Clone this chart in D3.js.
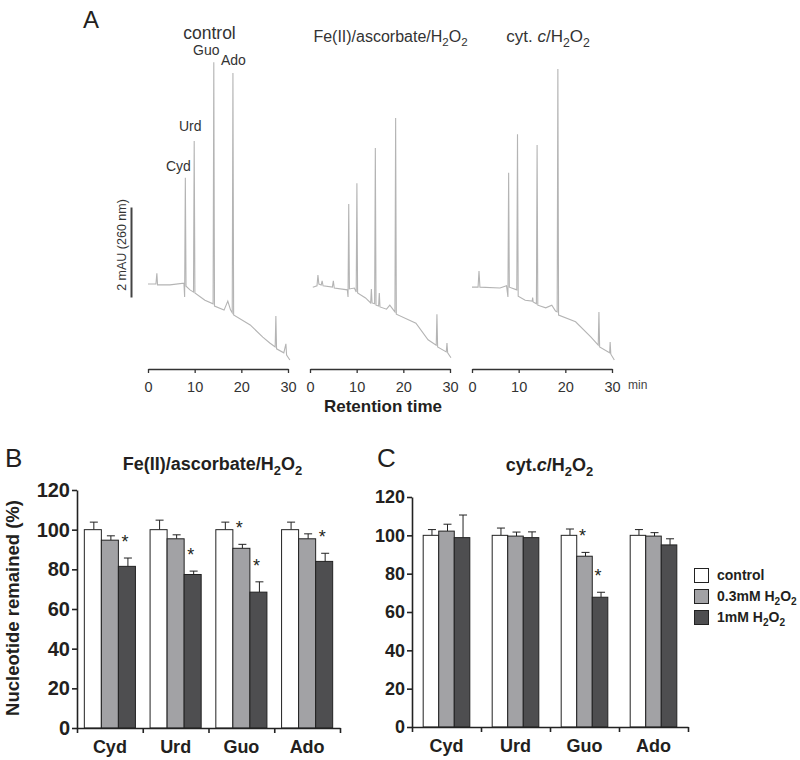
<!DOCTYPE html>
<html><head><meta charset="utf-8">
<script src="https://cdn.jsdelivr.net/npm/d3@7"></script>
<style>
body{margin:0;background:#fff}
svg{display:block;font-family:"Liberation Sans",Arial,Helvetica,sans-serif}
</style>
</head><body>
<svg id="chart" width="800" height="760"></svg>
<script>
// ---------------- DATA ----------------
// Panel A: chromatograms, [retention time (min), absorbance (mAU, relative)]
const traceTitles = ["control", "Fe(II)/ascorbate/H_2O_2", "cyt. {c}/H_2O_2"];
const timeTicks = [0, 10, 20, 30];
const traceControl = [[0,0],[1.7,0],[1.9,0.24],[2.05,-0.02],[4.7,-0.02],[7.7,0.02],[7.85,-0.29],[8.0,2.36],[8.15,-0.05],[9.0,-0.13],[9.75,-0.18],[9.9,3.18],[10.05,-0.2],[12.2,-0.36],[13.95,-0.44],[14.1,4.93],[14.25,-0.49],[16.3,-0.58],[17.1,-0.38],[17.7,-0.58],[18.05,-0.64],[18.2,4.69],[18.35,-0.69],[21.9,-0.91],[24.6,-1.18],[26.1,-1.31],[27.25,-1.40],[27.4,-0.71],[27.55,-1.44],[29.1,-1.53],[29.55,-1.33],[29.7,-1.58],[30.4,-1.69]];
const traceFe = [[0.6,-0.07],[1.5,-0.04],[1.7,0.2],[1.9,0],[2.4,-0.02],[2.6,0.07],[2.8,-0.04],[4.8,-0.07],[5.0,0.07],[5.2,-0.09],[8.0,-0.13],[8.15,-0.29],[8.3,1.78],[8.45,-0.11],[9.5,-0.09],[9.9,-0.18],[10.05,2.24],[10.2,-0.2],[11.9,-0.31],[13.0,-0.42],[13.15,-0.11],[13.3,-0.42],[13.85,-0.44],[14.0,3.02],[14.15,-0.47],[14.7,-0.49],[14.85,-0.2],[15.0,-0.51],[16.4,-0.56],[17.1,-0.47],[17.9,-0.58],[18.2,-0.62],[18.35,3.69],[18.5,-0.67],[22.7,-0.87],[25.3,-1.24],[27.05,-1.36],[27.2,-0.67],[27.35,-1.40],[29.2,-1.51],[29.35,-1.31],[29.5,-1.53],[30.2,-1.64]];
const traceCyt = [[0,-0.07],[1.3,-0.07],[1.5,0.29],[1.7,-0.07],[6.0,-0.09],[7.4,-0.04],[7.7,-0.29],[7.85,2.47],[8.0,-0.07],[9.6,-0.13],[9.75,3.33],[9.9,-0.27],[11.4,-0.36],[12.9,-0.38],[13.0,-0.3],[13.1,-0.4],[13.8,-0.44],[13.95,3.09],[14.1,-0.47],[15.8,-0.53],[17.1,-0.47],[17.9,-0.6],[18.25,-0.62],[18.4,4.78],[18.55,-0.69],[22.2,-0.84],[25.5,-1.18],[27.05,-1.36],[27.2,-0.62],[27.35,-1.4],[29.2,-1.51],[29.5,-1.53],[29.6,-1.29],[29.75,-1.56],[30.5,-1.69]];
const peakNames = ["Cyd", "Urd", "Guo", "Ado"];
const peakTimes = [8.0, 9.9, 14.1, 18.2];
const scaleBarMAU = [-0.3, 1.7];   // 2 mAU bar

// Panels B and C: bar charts
const categories = ["Cyd", "Urd", "Guo", "Ado"];
const seriesNames = ["control", "0.3mM H_2O_2", "1mM H_2O_2"];
const yTicks = [0, 20, 40, 60, 80, 100, 120];
// Fe(II)/ascorbate/H2O2
const feControl = [100, 100, 100, 100];
const feLow     = [94.7, 95.4, 90.6, 95.4];
const feHigh    = [81.5, 77.4, 68.5, 84.0];
const feControlErr = [3.8, 4.8, 3.8, 3.8];
const feLowErr     = [2.2, 2.0, 2.0, 2.5];
const feHighErr    = [4.2, 1.7, 5.2, 4.1];
const feLowSig  = [false, false, true, false];
const feHighSig = [true, true, true, true];
// cyt.c/H2O2
const cytControl = [100, 100, 100, 100];
const cytLow     = [102.2, 99.6, 89.1, 99.6];
const cytHigh    = [98.8, 98.8, 67.7, 95.0];
const cytControlErr = [3.0, 3.8, 3.3, 3.0];
const cytLowErr     = [3.6, 2.1, 2.0, 1.8];
const cytHighErr    = [11.8, 3.0, 2.6, 3.2];
const cytLowSig  = [false, false, true, false];
const cytHighSig = [false, false, true, false];

// ---------------- STYLE ----------------
const ink = "#231f20";
const traceColor = "#b4b4b4";
const barColors = ["#ffffff", "#a2a2a5", "#4e4e50"];

const svg = d3.select("#chart");
svg.append("rect").attr("width", 800).attr("height", 760).attr("fill", "#fff");

function rich(sel, str, fs) {
  const segs = []; let it = false, buf = "";
  for (let i = 0; i < str.length; i++) {
    const ch = str[i];
    if (ch === "_") { if (buf) segs.push({t: buf, it}); buf = ""; segs.push({t: str[i+1], sub: true, it}); i++; }
    else if (ch === "{" || ch === "}") { if (buf) segs.push({t: buf, it}); buf = ""; it = (ch === "{"); }
    else buf += ch;
  }
  if (buf) segs.push({t: buf, it});
  let shifted = false;
  segs.forEach(s => {
    const ts = sel.append("tspan").text(s.t);
    if (s.it) ts.attr("font-style", "italic");
    if (s.sub) { ts.attr("font-size", fs * 0.72); if (!shifted) ts.attr("dy", fs * 0.28); shifted = true; }
    else if (shifted) { ts.attr("dy", -fs * 0.28); shifted = false; }
  });
  return sel;
}
function label(x, y, str, fs, opts = {}) {
  const t = svg.append("text").attr("x", x).attr("y", y).attr("font-size", fs)
    .attr("fill", opts.fill || ink).attr("text-anchor", opts.anchor || "middle")
    .attr("font-weight", opts.bold ? "bold" : "normal");
  if (opts.rotate) t.attr("transform", `rotate(${opts.rotate},${x},${y})`);
  return rich(t, str, fs);
}

// ---------------- PANEL A ----------------
label(83, 28, "A", 24, {anchor: "start"});
const traces = [traceControl, traceFe, traceCyt];
const traceX0 = [148, 310, 472];
const yA = d3.scaleLinear().domain([-2, 5]).range([374, 59]);
const titlePos = [[209.5, 39, 17.5], [390.5, 42, 16], [548, 42, 17]];
traces.forEach((tr, i) => {
  const x = d3.scaleLinear().domain([0, 30]).range([traceX0[i], traceX0[i] + 140]);
  svg.append("path").datum(tr)
    .attr("d", d3.line().x(d => x(d[0])).y(d => yA(d[1])))
    .attr("fill", "none").attr("stroke", traceColor).attr("stroke-width", 1.1);
  const ax = svg.append("g").attr("transform", "translate(0,369)")
    .call(d3.axisBottom(x).tickValues(timeTicks).tickSize(4).tickSizeOuter(0).tickPadding(9));
  ax.select(".domain").attr("stroke", "#333").attr("stroke-width", 1.3);
  ax.selectAll(".tick line").attr("stroke", "#333").attr("stroke-width", 1.3);
  ax.selectAll("text").attr("font-size", 14.5).attr("fill", "#333").attr("font-family", null);
  const tp = titlePos[i];
  label(tp[0], tp[1], traceTitles[i], tp[2], {fill: "#333"});
  if (i === 0) {
    const offs = [[-7, -7], [-4, -10], [-7.5, -7], [0.5, -8]];
    peakNames.forEach((n, k) => {
      const top = d3.max(tr.filter(d => Math.abs(d[0] - peakTimes[k]) < 0.2), d => d[1]);
      label(x(peakTimes[k]) + offs[k][0], yA(top) + offs[k][1], n, 14, {fill: "#333"});
    });
  }
});
label(628, 389, "min", 12, {anchor: "start", fill: "#444"});
label(383, 412, "Retention time", 17, {bold: true});
// scale bar
svg.append("line").attr("x1", 131.5).attr("x2", 131.5)
  .attr("y1", yA(scaleBarMAU[0])).attr("y2", yA(scaleBarMAU[1]))
  .attr("stroke", "#444").attr("stroke-width", 2);
label(126, 245, "2 mAU (260 nm)", 12.5, {rotate: -90, fill: "#333"});

// ---------------- PANELS B & C ----------------
function barPanel(cfg) {
  const y = d3.scaleLinear().domain([0, 120]).range(cfg.yRange);
  const x0 = d3.scaleBand().domain(categories).range(cfg.xRange).paddingInner(0).paddingOuter(0);
  const x1 = d3.scaleBand().domain([0, 1, 2]).range([0, x0.bandwidth()]).paddingInner(0).paddingOuter(cfg.outer);
  const vals = [cfg.c, cfg.l, cfg.h], errs = [cfg.ce, cfg.le, cfg.he];
  const sig = [categories.map(() => false), cfg.ls, cfg.hs];
  const data = [];
  categories.forEach((cat, ci) => [0, 1, 2].forEach(s => data.push({cat, s, v: vals[s][ci], e: errs[s][ci], sig: sig[s][ci]})));
  const g = svg.append("g");
  // error bars (upper half)
  const cap = 4;
  data.forEach(d => {
    const cx = x0(d.cat) + x1(d.s) + x1.bandwidth() / 2 + 1;
    g.append("line").attr("x1", cx).attr("x2", cx).attr("y1", y(d.v)).attr("y2", y(d.v + d.e)).attr("stroke", "#222").attr("stroke-width", 1);
    g.append("line").attr("x1", cx - cap).attr("x2", cx + cap).attr("y1", y(d.v + d.e)).attr("y2", y(d.v + d.e)).attr("stroke", "#222").attr("stroke-width", 1);
    if (d.sig) {
      g.append("text").attr("x", cx - 3).attr("y", y(d.v + d.e) - 10).attr("text-anchor", "middle")
        .attr("font-size", 18).attr("fill", ink).text("*");
    }
  });
  g.selectAll("rect.bar").data(data).join("rect")
    .attr("x", d => x0(d.cat) + x1(d.s)).attr("width", x1.bandwidth())
    .attr("y", d => y(d.v)).attr("height", d => y(0) - y(d.v))
    .attr("fill", d => barColors[d.s]).attr("stroke", "#222").attr("stroke-width", 1);
  // axes
  const ya = svg.append("g").attr("transform", `translate(${cfg.xRange[0]},0)`)
    .call(d3.axisLeft(y).tickValues(yTicks).tickSize(5).tickSizeOuter(0).tickPadding(2));
  ya.selectAll("text").attr("font-size", cfg.tickFs).attr("font-weight", "bold").attr("fill", ink).attr("font-family", null);
  const bx = d3.scaleLinear().domain([0, 4]).range(cfg.xRange);
  const xa = svg.append("g").attr("transform", `translate(0,${cfg.yRange[0]})`)
    .call(d3.axisBottom(bx).ticks(4).tickFormat("").tickSize(5).tickSizeOuter(0));
  const xl = svg.append("g").attr("transform", `translate(0,${cfg.yRange[0]})`)
    .call(d3.axisBottom(x0).tickSize(0).tickPadding(12));
  xl.select(".domain").remove();
  xl.selectAll("text").attr("font-size", 18).attr("font-weight", "bold").attr("fill", ink).attr("font-family", null);
  [ya, xa].forEach(a => {
    a.select(".domain").attr("stroke", "#222").attr("stroke-width", 1.6);
    a.selectAll(".tick line").attr("stroke", "#222").attr("stroke-width", 1.6);
  });
  label(cfg.title[0], cfg.title[1], cfg.title[2], 18, {bold: true});
}

label(5, 467, "B", 26, {anchor: "start"});
barPanel({xRange: [77, 340], yRange: [728, 490], outer: 0.43, tickFs: 20,
  c: feControl, l: feLow, h: feHigh, ce: feControlErr, le: feLowErr, he: feHighErr, ls: feLowSig, hs: feHighSig,
  title: [212.5, 470, "Fe(II)/ascorbate/H_2O_2"]});
label(19, 608, "Nucleotide remained (%)", 18.5, {bold: true, rotate: -90});

label(377, 467, "C", 26, {anchor: "start"});
barPanel({xRange: [412, 688], yRange: [727, 497], outer: 0.72, tickFs: 18,
  c: cytControl, l: cytLow, h: cytHigh, ce: cytControlErr, le: cytLowErr, he: cytHighErr, ls: cytLowSig, hs: cytHighSig,
  title: [549.5, 471, "cyt.{c}/H_2O_2"]});

// legend
const lg = svg.append("g");
seriesNames.forEach((n, i) => {
  lg.append("rect").attr("x", 694.5).attr("y", 568.5 + i * 21).attr("width", 14).attr("height", 14)
    .attr("fill", barColors[i]).attr("stroke", "#222").attr("stroke-width", 1);
  label(717, 580 + i * 21, n, 14, {bold: true, anchor: "start"});
});
</script>
</body></html>
